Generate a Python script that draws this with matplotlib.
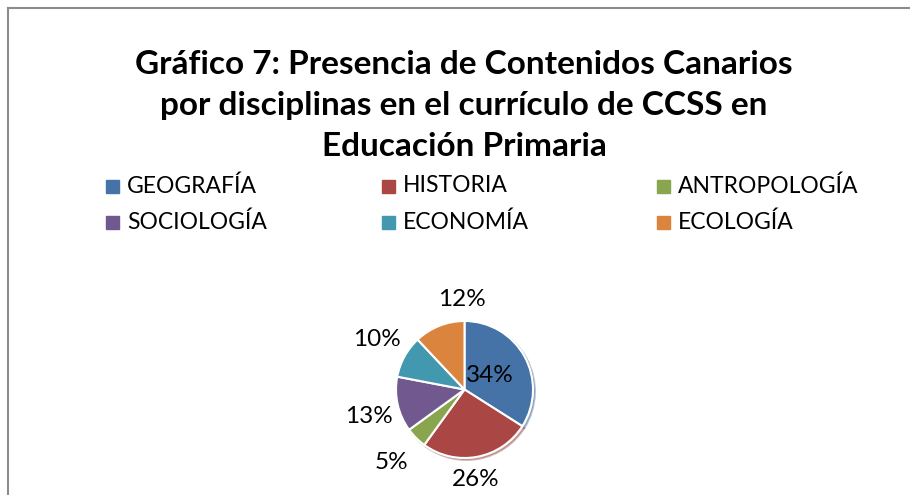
import matplotlib.pyplot as plt
from matplotlib.patches import Rectangle
from matplotlib.lines import Line2D
import numpy as np

plt.rcParams['font.family'] = ['Lato', 'DejaVu Sans']

# data
disciplines = ['GEOGRAFÍA', 'HISTORIA', 'ANTROPOLOGÍA', 'SOCIOLOGÍA', 'ECONOMÍA', 'ECOLOGÍA']
percentages = [34, 26, 5, 13, 10, 12]
colors = ['#4572A7', '#AA4643', '#89A54E', '#71588F', '#4198AF', '#DB843D']
title = 'Gráfico 7: Presencia de Contenidos Canarios\npor disciplinas en el currículo de CCSS en\nEducación Primaria'

# label placement (distance in radii, angular nudge in degrees)
label_dist = [0.42, 1.33, 1.50, 1.45, 1.47, 1.32]
label_nudge = [0, -4, 0, 3, -1, -20]

W, H = 910, 495
fig = plt.figure(figsize=(W / 100, H / 100), dpi=100)

# chart frame (left and top edges visible)
fig.add_artist(Line2D([7.5 / W, 7.5 / W], [0, 1 - 8 / H], color='#8c8c8c', lw=1.5))
fig.add_artist(Line2D([7.5 / W, 1], [1 - 8 / H, 1 - 8 / H], color='#8c8c8c', lw=1.5))

fig.text(464 / W, 1 - 106 / H, title, ha='center', va='center', fontsize=24,
         fontweight='bold', linespacing=1.5)

# legend, 3 columns x 2 rows
col_x = [106, 382, 657]
row_y = [186, 222]
for i, (name, c) in enumerate(zip(disciplines, colors)):
    x = col_x[i % 3]
    y = row_y[i // 3]
    fig.add_artist(Rectangle((x / W, (H - y - 6.5) / H), 13 / W, 13 / H,
                             transform=fig.transFigure, color=c))
    fig.text((x + 21) / W, 1 - y / H, name, ha='left', va='center', fontsize=16.5)

# pie
cx, cy, r = 464.5, 389.5, 68.5
ax = fig.add_axes([(cx - r) / W, (H - cy - r) / H, 2 * r / W, 2 * r / H])
wedges, _ = ax.pie(percentages, colors=colors, startangle=90, counterclock=False,
                   radius=1, wedgeprops=dict(edgecolor='white', linewidth=1.5),
                   shadow=dict(ox=0.02, oy=-0.02, shade=0.2, alpha=0.35))
ax.set_xlim(-1, 1)
ax.set_ylim(-1, 1)
ax.set_aspect('equal')
ax.axis('off')

for w, p, d, n in zip(wedges, percentages, label_dist, label_nudge):
    ang = np.deg2rad((w.theta1 + w.theta2) / 2 + n)
    ax.text(d * np.cos(ang), d * np.sin(ang), f'{p}%', ha='center', va='center',
            fontsize=17.5, clip_on=False)

fig.savefig('out.png', dpi=100)
